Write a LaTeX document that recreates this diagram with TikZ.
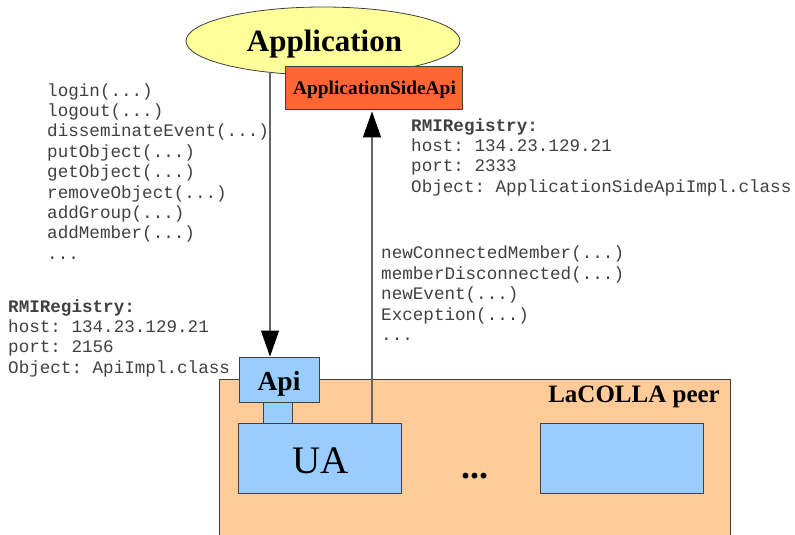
\documentclass[tikz,border=0pt]{standalone}
\usepackage{fontspec}
\setmainfont{Liberation Serif}
\setmonofont{Liberation Mono}
\usetikzlibrary{arrows.meta,shapes.geometric}
\definecolor{appyellow}{HTML}{FFFF99}
\definecolor{asaorange}{HTML}{FF6633}
\definecolor{boxblue}{HTML}{99CCFF}
\definecolor{peerorange}{HTML}{FFCC99}
\begin{document}
\begin{tikzpicture}[x=1pt,y=-1pt,
  box/.style={draw=black!75, line width=0.8pt, inner sep=0pt, rectangle},
  lbl/.style={inner sep=0pt, anchor=base, font=\bfseries},
  code/.style={font=\fontsize{17.6}{20.4}\selectfont\ttfamily, align=left, inner sep=0pt, anchor=base west, text=black!75},
  conn/.style={draw=black!60, line width=1.1pt},
  arr/.style={-{Triangle[width=18pt,length=26pt,fill=black,color=black]}}]
\useasboundingbox (0,0) rectangle (795,535);
\clip (0,0) rectangle (795,535);
% Application ellipse
\node[ellipse, draw=black!75, line width=0.8pt, fill=appyellow, minimum width=274pt, minimum height=68pt, inner sep=0pt] (app) at (323,41) {};
\node[lbl, font=\fontsize{31}{36}\selectfont\bfseries] (applbl) at (324.5,52) {Application};
% ApplicationSideApi box
\node[box, fill=asaorange, minimum width=177pt, minimum height=43pt] (asa) at (373.5,87.5) {};
\node[lbl, font=\fontsize{19.4}{23}\selectfont\bfseries] (asalbl) at (374.5,95) {ApplicationSideApi};
% LaCOLLA peer
\node[box, fill=peerorange, minimum width=511pt, minimum height=200pt, anchor=north west] (peer) at (219,379) {};
\node[lbl, anchor=base east, font=\fontsize{25}{30}\selectfont\bfseries] (peerlbl) at (720,402) {LaCOLLA peer};
% Api, neck, UA, other box
\node[box, fill=boxblue, minimum width=29pt, minimum height=21pt] (neck) at (277.5,412.5) {};
\node[box, fill=boxblue, minimum width=80pt, minimum height=45pt] (api) at (279,379.5) {};
\node[lbl, font=\fontsize{27.5}{32}\selectfont\bfseries] (apilbl) at (279,390) {Api};
\node[box, fill=boxblue, minimum width=163pt, minimum height=70pt] (ua) at (319.5,458) {};
\node[lbl, font=\fontsize{39}{44}\selectfont] (ualbl) at (320.5,473) {UA};
\node[box, fill=boxblue, minimum width=163pt, minimum height=70pt] (other) at (621.5,458) {};
\node[lbl, font=\fontsize{36}{40}\selectfont\bfseries] (dots) at (474.5,478) {...};
% connectors
\coordinate (a1) at (270,72.5);
\draw[conn, arr] (a1) -- (a1 |- api.north);
\coordinate (u1) at (372,423);
\draw[conn, arr, shorten >=2pt] (u1) -- (u1 |- asa.south);
% texts (anchored at the baseline of their last line)
\node[code] (calls) at (47,259.2) {login(...)\\logout(...)\\disseminateEvent(...)\\putObject(...)\\getObject(...)\\removeObject(...)\\addGroup(...)\\addMember(...)\\...};
\node[code] (rmiright) at (411,192.2) {\textbf{RMIRegistry:}\\host: 134.23.129.21\\port: 2333\\Object: ApplicationSideApiImpl.class};
\node[code] (callbacks) at (381,340.5) {newConnectedMember(...)\\memberDisconnected(...)\\newEvent(...)\\Exception(...)\\...};
\node[code] (rmileft) at (8,373.2) {\textbf{RMIRegistry:}\\host: 134.23.129.21\\port: 2156\\Object: ApiImpl.class};
\end{tikzpicture}
\end{document}
